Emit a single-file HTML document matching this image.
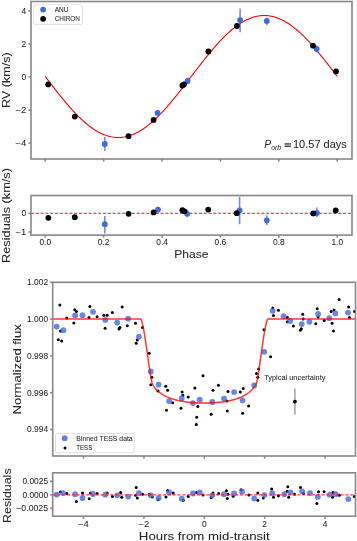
<!DOCTYPE html><html><head><meta charset="utf-8"><style>html,body{margin:0;padding:0;background:#fff;}svg{display:block;will-change:transform;}</style></head><body><svg width="357" height="541" viewBox="0 0 357 541" font-family='"Liberation Sans", sans-serif'><rect width="357" height="541" fill="#fff"/><polyline points="45.25,76.50 46.71,78.42 48.17,80.33 49.63,82.24 51.09,84.15 52.55,86.04 54.01,87.93 55.47,89.81 56.93,91.67 58.39,93.52 59.85,95.35 61.31,97.16 62.77,98.95 64.23,100.72 65.69,102.47 67.15,104.19 68.61,105.88 70.07,107.54 71.53,109.18 72.99,110.78 74.45,112.35 75.91,113.88 77.37,115.37 78.83,116.83 80.29,118.25 81.75,119.62 83.21,120.95 84.67,122.24 86.13,123.49 87.59,124.69 89.05,125.84 90.51,126.94 91.97,127.99 93.43,128.99 94.89,129.94 96.35,130.84 97.81,131.68 99.27,132.47 100.73,133.20 102.19,133.88 103.65,134.50 105.11,135.06 106.57,135.57 108.03,136.01 109.49,136.40 110.95,136.73 112.41,137.00 113.87,137.21 115.33,137.36 116.79,137.45 118.25,137.48 119.71,137.45 121.17,137.36 122.63,137.21 124.09,137.00 125.55,136.73 127.01,136.40 128.47,136.01 129.93,135.57 131.39,135.06 132.85,134.50 134.31,133.88 135.77,133.20 137.23,132.47 138.69,131.68 140.15,130.84 141.61,129.94 143.07,128.99 144.53,127.99 145.99,126.94 147.45,125.84 148.91,124.69 150.37,123.49 151.83,122.24 153.29,120.95 154.75,119.62 156.21,118.25 157.67,116.83 159.13,115.37 160.59,113.88 162.05,112.35 163.51,110.78 164.97,109.18 166.43,107.54 167.89,105.88 169.35,104.19 170.81,102.47 172.27,100.72 173.73,98.95 175.19,97.16 176.65,95.35 178.11,93.52 179.57,91.67 181.03,89.81 182.49,87.93 183.95,86.04 185.41,84.15 186.87,82.24 188.33,80.33 189.79,78.42 191.25,76.50 192.71,74.59 194.17,72.68 195.63,70.77 197.09,68.86 198.55,66.97 200.01,65.08 201.47,63.20 202.93,61.34 204.39,59.49 205.85,57.66 207.31,55.85 208.77,54.06 210.23,52.29 211.69,50.54 213.15,48.82 214.61,47.13 216.07,45.46 217.53,43.83 218.99,42.23 220.45,40.66 221.91,39.13 223.37,37.64 224.83,36.18 226.29,34.76 227.75,33.39 229.21,32.05 230.67,30.76 232.13,29.52 233.59,28.32 235.05,27.17 236.51,26.07 237.97,25.02 239.43,24.02 240.89,23.07 242.35,22.17 243.81,21.33 245.27,20.54 246.73,19.81 248.19,19.13 249.65,18.51 251.11,17.95 252.57,17.44 254.03,17.00 255.49,16.61 256.95,16.28 258.41,16.01 259.87,15.80 261.33,15.65 262.79,15.56 264.25,15.53 265.71,15.56 267.17,15.65 268.63,15.80 270.09,16.01 271.55,16.28 273.01,16.61 274.47,17.00 275.93,17.44 277.39,17.95 278.85,18.51 280.31,19.13 281.77,19.81 283.23,20.54 284.69,21.33 286.15,22.17 287.61,23.07 289.07,24.02 290.53,25.02 291.99,26.07 293.45,27.17 294.91,28.32 296.37,29.52 297.83,30.76 299.29,32.05 300.75,33.39 302.21,34.76 303.67,36.18 305.13,37.64 306.59,39.13 308.05,40.66 309.51,42.23 310.97,43.83 312.43,45.46 313.89,47.13 315.35,48.82 316.81,50.54 318.27,52.29 319.73,54.06 321.19,55.85 322.65,57.66 324.11,59.49 325.57,61.34 327.03,63.20 328.49,65.08 329.95,66.97 331.41,68.86 332.87,70.77 334.33,72.68 335.79,74.59 337.25,76.50" fill="none" stroke="#ff0000" stroke-width="1.1"/><line x1="104.8" y1="137" x2="104.8" y2="151" stroke="#4169e1" stroke-width="1.6" stroke-opacity="0.75"/><line x1="157.6" y1="110.4" x2="157.6" y2="115.4" stroke="#4169e1" stroke-width="1.6" stroke-opacity="0.75"/><line x1="187.6" y1="77.6" x2="187.6" y2="84.3" stroke="#4169e1" stroke-width="1.6" stroke-opacity="0.75"/><line x1="240.1" y1="8.6" x2="240.1" y2="32.2" stroke="#4169e1" stroke-width="1.6" stroke-opacity="0.75"/><line x1="266.8" y1="17.4" x2="266.8" y2="25.2" stroke="#4169e1" stroke-width="1.6" stroke-opacity="0.75"/><line x1="316.7" y1="45.5" x2="316.7" y2="52.5" stroke="#4169e1" stroke-width="1.6" stroke-opacity="0.75"/><circle cx="104.8" cy="144" r="2.9" fill="#4169e1"/><circle cx="157.6" cy="112.9" r="2.9" fill="#4169e1"/><circle cx="187.6" cy="81" r="2.9" fill="#4169e1"/><circle cx="240.1" cy="20.1" r="2.9" fill="#4169e1"/><circle cx="266.8" cy="21" r="2.9" fill="#4169e1"/><circle cx="316.7" cy="49" r="2.9" fill="#4169e1"/><circle cx="48.2" cy="84.4" r="2.9" fill="#000"/><circle cx="74.8" cy="116.6" r="2.9" fill="#000"/><circle cx="128.5" cy="136.2" r="2.9" fill="#000"/><circle cx="153.6" cy="119.9" r="2.9" fill="#000"/><circle cx="182.4" cy="85.5" r="2.9" fill="#000"/><circle cx="184" cy="84.3" r="2.9" fill="#000"/><circle cx="208.4" cy="51.5" r="2.9" fill="#000"/><circle cx="236.9" cy="26" r="2.9" fill="#000"/><circle cx="313" cy="45.7" r="2.9" fill="#000"/><circle cx="336" cy="71.4" r="2.9" fill="#000"/><rect x="31" y="1.5" width="321" height="157.5" fill="none" stroke="#888888" stroke-width="1.6"/><line x1="28.4" y1="10.900000000000006" x2="31" y2="10.900000000000006" stroke="#888888" stroke-width="1.6"/><text x="26.3" y="13.7" font-size="8.5" text-anchor="end" textLength="4.68" lengthAdjust="spacingAndGlyphs" fill="#262626" stroke="#262626" stroke-width="0.05" >4</text><line x1="28.4" y1="43.95" x2="31" y2="43.95" stroke="#888888" stroke-width="1.6"/><text x="26.3" y="46.75" font-size="8.5" text-anchor="end" textLength="4.68" lengthAdjust="spacingAndGlyphs" fill="#262626" stroke="#262626" stroke-width="0.05" >2</text><line x1="28.4" y1="77.0" x2="31" y2="77.0" stroke="#888888" stroke-width="1.6"/><text x="26.3" y="79.8" font-size="8.5" text-anchor="end" textLength="4.68" lengthAdjust="spacingAndGlyphs" fill="#262626" stroke="#262626" stroke-width="0.05" >0</text><line x1="28.4" y1="110.05" x2="31" y2="110.05" stroke="#888888" stroke-width="1.6"/><text x="26.3" y="112.85" font-size="8.5" text-anchor="end" textLength="10.83" lengthAdjust="spacingAndGlyphs" fill="#262626" stroke="#262626" stroke-width="0.05" >&#8722;2</text><line x1="28.4" y1="143.1" x2="31" y2="143.1" stroke="#888888" stroke-width="1.6"/><text x="26.3" y="145.9" font-size="8.5" text-anchor="end" textLength="10.83" lengthAdjust="spacingAndGlyphs" fill="#262626" stroke="#262626" stroke-width="0.05" >&#8722;4</text><line x1="45.25" y1="159" x2="45.25" y2="161.6" stroke="#888888" stroke-width="1.6"/><line x1="103.65" y1="159" x2="103.65" y2="161.6" stroke="#888888" stroke-width="1.6"/><line x1="162.05" y1="159" x2="162.05" y2="161.6" stroke="#888888" stroke-width="1.6"/><line x1="220.45" y1="159" x2="220.45" y2="161.6" stroke="#888888" stroke-width="1.6"/><line x1="278.85" y1="159" x2="278.85" y2="161.6" stroke="#888888" stroke-width="1.6"/><line x1="337.25" y1="159" x2="337.25" y2="161.6" stroke="#888888" stroke-width="1.6"/><text transform="translate(9.6,80.2) rotate(-90)" x="0" y="0" font-size="11.5" text-anchor="middle" textLength="55.59" lengthAdjust="spacingAndGlyphs" fill="#262626" stroke="#262626" stroke-width="0.05">RV (km/s)</text><rect x="33.7" y="4.7" width="48.7" height="19.7" rx="1.5" fill="#fff" fill-opacity="0.8" stroke="#d9d9d9" stroke-width="0.8"/><circle cx="43.1" cy="9.6" r="2.9" fill="#4169e1"/><circle cx="43.1" cy="18.8" r="2.9" fill="#000"/><text x="54.7" y="12.2" font-size="7.2" text-anchor="start" textLength="13.74" lengthAdjust="spacingAndGlyphs" fill="#262626" stroke="#262626" stroke-width="0.05" >ANU</text><text x="54.7" y="21.2" font-size="7.2" text-anchor="start" textLength="25.24" lengthAdjust="spacingAndGlyphs" fill="#262626" stroke="#262626" stroke-width="0.05" >CHIRON</text><text x="264.2" y="148.2" font-size="10.2" font-style="italic" fill="#262626" textLength="6.9" lengthAdjust="spacingAndGlyphs">P</text><text x="271.2" y="149.6" font-size="7.0" font-style="italic" fill="#262626" textLength="9.9" lengthAdjust="spacingAndGlyphs">orb</text><rect x="284.6" y="143.3" width="6.3" height="1.3" fill="#303030"/><rect x="284.6" y="145.6" width="6.3" height="1.3" fill="#303030"/><text x="293.0" y="148.3" font-size="10.2" text-anchor="start" textLength="53.86" lengthAdjust="spacingAndGlyphs" fill="#262626" stroke="#262626" stroke-width="0.05" >10.57 days</text><line x1="31" y1="213.3" x2="352" y2="213.3" stroke="#dc143c" stroke-width="1.1" stroke-dasharray="3,1.8"/><line x1="104.8" y1="216" x2="104.8" y2="233.4" stroke="#4169e1" stroke-width="1.6" stroke-opacity="0.75"/><line x1="158" y1="207.4" x2="158" y2="212.4" stroke="#4169e1" stroke-width="1.6" stroke-opacity="0.75"/><line x1="187.2" y1="209.6" x2="187.2" y2="217.2" stroke="#4169e1" stroke-width="1.6" stroke-opacity="0.75"/><line x1="239.6" y1="197" x2="239.6" y2="224.2" stroke="#4169e1" stroke-width="1.6" stroke-opacity="0.75"/><line x1="266.8" y1="215.2" x2="266.8" y2="225" stroke="#4169e1" stroke-width="1.6" stroke-opacity="0.75"/><line x1="316.9" y1="207.4" x2="316.9" y2="217.2" stroke="#4169e1" stroke-width="1.6" stroke-opacity="0.75"/><circle cx="104.8" cy="224.2" r="2.9" fill="#4169e1"/><circle cx="158" cy="209.6" r="2.9" fill="#4169e1"/><circle cx="187.2" cy="213.8" r="2.9" fill="#4169e1"/><circle cx="239.6" cy="210.4" r="2.9" fill="#4169e1"/><circle cx="266.8" cy="220.3" r="2.9" fill="#4169e1"/><circle cx="316.9" cy="213" r="2.9" fill="#4169e1"/><circle cx="48.3" cy="217.8" r="2.9" fill="#000"/><circle cx="74.8" cy="217.2" r="2.9" fill="#000"/><circle cx="128.6" cy="213.8" r="2.9" fill="#000"/><circle cx="153.6" cy="212.4" r="2.9" fill="#000"/><circle cx="182.4" cy="210.2" r="2.9" fill="#000"/><circle cx="184.4" cy="211.3" r="2.9" fill="#000"/><circle cx="208.2" cy="209.6" r="2.9" fill="#000"/><circle cx="236.8" cy="213.2" r="2.9" fill="#000"/><circle cx="313.3" cy="213.4" r="2.9" fill="#000"/><circle cx="335.7" cy="210.4" r="2.9" fill="#000"/><rect x="31" y="195.5" width="321" height="39.599999999999994" fill="none" stroke="#888888" stroke-width="1.6"/><line x1="28.4" y1="213.3" x2="31" y2="213.3" stroke="#888888" stroke-width="1.6"/><text x="26.3" y="216.1" font-size="8.5" text-anchor="end" textLength="4.68" lengthAdjust="spacingAndGlyphs" fill="#262626" stroke="#262626" stroke-width="0.05" >0</text><line x1="28.4" y1="232.0" x2="31" y2="232.0" stroke="#888888" stroke-width="1.6"/><text x="26.3" y="234.8" font-size="8.5" text-anchor="end" textLength="10.83" lengthAdjust="spacingAndGlyphs" fill="#262626" stroke="#262626" stroke-width="0.05" >&#8722;1</text><line x1="45.25" y1="235.1" x2="45.25" y2="237.7" stroke="#888888" stroke-width="1.6"/><text x="45.25" y="245.2" font-size="8.5" text-anchor="middle" textLength="11.69" lengthAdjust="spacingAndGlyphs" fill="#262626" stroke="#262626" stroke-width="0.05" >0.0</text><line x1="103.65" y1="235.1" x2="103.65" y2="237.7" stroke="#888888" stroke-width="1.6"/><text x="103.65" y="245.2" font-size="8.5" text-anchor="middle" textLength="11.69" lengthAdjust="spacingAndGlyphs" fill="#262626" stroke="#262626" stroke-width="0.05" >0.2</text><line x1="162.05" y1="235.1" x2="162.05" y2="237.7" stroke="#888888" stroke-width="1.6"/><text x="162.05" y="245.2" font-size="8.5" text-anchor="middle" textLength="11.69" lengthAdjust="spacingAndGlyphs" fill="#262626" stroke="#262626" stroke-width="0.05" >0.4</text><line x1="220.45" y1="235.1" x2="220.45" y2="237.7" stroke="#888888" stroke-width="1.6"/><text x="220.45" y="245.2" font-size="8.5" text-anchor="middle" textLength="11.69" lengthAdjust="spacingAndGlyphs" fill="#262626" stroke="#262626" stroke-width="0.05" >0.6</text><line x1="278.85" y1="235.1" x2="278.85" y2="237.7" stroke="#888888" stroke-width="1.6"/><text x="278.85" y="245.2" font-size="8.5" text-anchor="middle" textLength="11.69" lengthAdjust="spacingAndGlyphs" fill="#262626" stroke="#262626" stroke-width="0.05" >0.8</text><line x1="337.25" y1="235.1" x2="337.25" y2="237.7" stroke="#888888" stroke-width="1.6"/><text x="337.25" y="245.2" font-size="8.5" text-anchor="middle" textLength="11.69" lengthAdjust="spacingAndGlyphs" fill="#262626" stroke="#262626" stroke-width="0.05" >1.0</text><text transform="translate(10.3,215.5) rotate(-90)" x="0" y="0" font-size="11.5" text-anchor="middle" textLength="94.92" lengthAdjust="spacingAndGlyphs" fill="#262626" stroke="#262626" stroke-width="0.05">Residuals (km/s)</text><text x="191.4" y="257.8" font-size="11.5" text-anchor="middle" textLength="34.34" lengthAdjust="spacingAndGlyphs" fill="#262626" stroke="#262626" stroke-width="0.05" >Phase</text><circle cx="59.9" cy="305.1" r="1.5" fill="#000"/><circle cx="66.8" cy="318.1" r="1.5" fill="#000"/><circle cx="58.3" cy="339.8" r="1.5" fill="#000"/><circle cx="61.7" cy="341" r="1.5" fill="#000"/><circle cx="60.5" cy="331.1" r="1.5" fill="#000"/><circle cx="74.7" cy="309.8" r="1.5" fill="#000"/><circle cx="76.4" cy="311.4" r="1.5" fill="#000"/><circle cx="73.8" cy="323" r="1.5" fill="#000"/><circle cx="89.9" cy="306.4" r="1.5" fill="#000"/><circle cx="89" cy="317.6" r="1.5" fill="#000"/><circle cx="97.1" cy="316.8" r="1.5" fill="#000"/><circle cx="103.8" cy="315.2" r="1.5" fill="#000"/><circle cx="107.1" cy="315.2" r="1.5" fill="#000"/><circle cx="105.1" cy="328.2" r="1.5" fill="#000"/><circle cx="112.3" cy="312.5" r="1.5" fill="#000"/><circle cx="122.2" cy="307.1" r="1.5" fill="#000"/><circle cx="119.9" cy="327.5" r="1.5" fill="#000"/><circle cx="119" cy="328.9" r="1.5" fill="#000"/><circle cx="127.3" cy="325.7" r="1.5" fill="#000"/><circle cx="135.5" cy="323.2" r="1.5" fill="#000"/><circle cx="142.5" cy="327.5" r="1.5" fill="#000"/><circle cx="137.3" cy="340.1" r="1.5" fill="#000"/><circle cx="136.2" cy="343.2" r="1.5" fill="#000"/><circle cx="149.2" cy="353.3" r="1.5" fill="#000"/><circle cx="151.9" cy="377.3" r="1.5" fill="#000"/><circle cx="150.8" cy="384.7" r="1.5" fill="#000"/><circle cx="158" cy="391" r="1.5" fill="#000"/><circle cx="165.8" cy="386.3" r="1.5" fill="#000"/><circle cx="167.6" cy="390.3" r="1.5" fill="#000"/><circle cx="172.7" cy="402.7" r="1.5" fill="#000"/><circle cx="166.5" cy="410.3" r="1.5" fill="#000"/><circle cx="182.1" cy="391.9" r="1.5" fill="#000"/><circle cx="182.8" cy="395.3" r="1.5" fill="#000"/><circle cx="181" cy="408.3" r="1.5" fill="#000"/><circle cx="188.2" cy="397.1" r="1.5" fill="#000"/><circle cx="194.9" cy="388.1" r="1.5" fill="#000"/><circle cx="197.8" cy="406.5" r="1.5" fill="#000"/><circle cx="196.7" cy="417.2" r="1.5" fill="#000"/><circle cx="196.3" cy="424.4" r="1.5" fill="#000"/><circle cx="203" cy="375.8" r="1.5" fill="#000"/><circle cx="213" cy="390.3" r="1.5" fill="#000"/><circle cx="218.4" cy="385.2" r="1.5" fill="#000"/><circle cx="211.2" cy="414.3" r="1.5" fill="#000"/><circle cx="226.9" cy="401.1" r="1.5" fill="#000"/><circle cx="227.3" cy="411" r="1.5" fill="#000"/><circle cx="228" cy="391.5" r="1.5" fill="#000"/><circle cx="240.3" cy="391.9" r="1.5" fill="#000"/><circle cx="243.2" cy="388.5" r="1.5" fill="#000"/><circle cx="248.6" cy="406" r="1.5" fill="#000"/><circle cx="242.6" cy="413.2" r="1.5" fill="#000"/><circle cx="257.8" cy="377.3" r="1.5" fill="#000"/><circle cx="256.5" cy="373.5" r="1.5" fill="#000"/><circle cx="258.7" cy="369" r="1.5" fill="#000"/><circle cx="270.6" cy="356.7" r="1.5" fill="#000"/><circle cx="272.8" cy="308" r="1.5" fill="#000"/><circle cx="273.5" cy="315.4" r="1.5" fill="#000"/><circle cx="278.4" cy="310.3" r="1.5" fill="#000"/><circle cx="263.9" cy="329.7" r="1.5" fill="#000"/><circle cx="287.3" cy="317.6" r="1.5" fill="#000"/><circle cx="287.3" cy="321.8" r="1.5" fill="#000"/><circle cx="293.4" cy="326" r="1.5" fill="#000"/><circle cx="302.7" cy="314.3" r="1.5" fill="#000"/><circle cx="303.2" cy="319" r="1.5" fill="#000"/><circle cx="301.3" cy="328.8" r="1.5" fill="#000"/><circle cx="300.4" cy="330.2" r="1.5" fill="#000"/><circle cx="315.8" cy="323.8" r="1.5" fill="#000"/><circle cx="317.2" cy="308.7" r="1.5" fill="#000"/><circle cx="318.1" cy="317" r="1.5" fill="#000"/><circle cx="324.2" cy="320.4" r="1.5" fill="#000"/><circle cx="331.2" cy="311.5" r="1.5" fill="#000"/><circle cx="332.1" cy="323.2" r="1.5" fill="#000"/><circle cx="333.5" cy="331.1" r="1.5" fill="#000"/><circle cx="334" cy="310" r="1.5" fill="#000"/><circle cx="339.1" cy="299.4" r="1.5" fill="#000"/><circle cx="348.6" cy="307" r="1.5" fill="#000"/><circle cx="349.4" cy="317.6" r="1.5" fill="#000"/><circle cx="354.5" cy="311.5" r="1.5" fill="#000"/><circle cx="56.7" cy="326.6" r="2.9" fill="#4169e1" fill-opacity="0.8"/><circle cx="63.4" cy="330.2" r="2.9" fill="#4169e1" fill-opacity="0.8"/><circle cx="75.1" cy="315.4" r="2.9" fill="#4169e1" fill-opacity="0.8"/><circle cx="82.5" cy="315.2" r="2.9" fill="#4169e1" fill-opacity="0.8"/><circle cx="93" cy="311.8" r="2.9" fill="#4169e1" fill-opacity="0.8"/><circle cx="105.3" cy="319.9" r="2.9" fill="#4169e1" fill-opacity="0.8"/><circle cx="117.2" cy="322.6" r="2.9" fill="#4169e1" fill-opacity="0.8"/><circle cx="128.1" cy="318.7" r="2.9" fill="#4169e1" fill-opacity="0.8"/><circle cx="138.9" cy="336.7" r="2.9" fill="#4169e1" fill-opacity="0.8"/><circle cx="150.8" cy="371.5" r="2.9" fill="#4169e1" fill-opacity="0.8"/><circle cx="158.6" cy="384.7" r="2.9" fill="#4169e1" fill-opacity="0.8"/><circle cx="169.1" cy="401.1" r="2.9" fill="#4169e1" fill-opacity="0.8"/><circle cx="181.7" cy="398.2" r="2.9" fill="#4169e1" fill-opacity="0.8"/><circle cx="192.9" cy="403.1" r="2.9" fill="#4169e1" fill-opacity="0.8"/><circle cx="199.7" cy="399.7" r="2.9" fill="#4169e1" fill-opacity="0.8"/><circle cx="212.3" cy="402" r="2.9" fill="#4169e1" fill-opacity="0.8"/><circle cx="224" cy="398.6" r="2.9" fill="#4169e1" fill-opacity="0.8"/><circle cx="234.1" cy="392.1" r="2.9" fill="#4169e1" fill-opacity="0.8"/><circle cx="242.6" cy="400.4" r="2.9" fill="#4169e1" fill-opacity="0.8"/><circle cx="254.2" cy="385.4" r="2.9" fill="#4169e1" fill-opacity="0.8"/><circle cx="264.2" cy="351.8" r="2.9" fill="#4169e1" fill-opacity="0.8"/><circle cx="272.6" cy="310.8" r="2.9" fill="#4169e1" fill-opacity="0.8"/><circle cx="283.6" cy="316.2" r="2.9" fill="#4169e1" fill-opacity="0.8"/><circle cx="290.1" cy="321" r="2.9" fill="#4169e1" fill-opacity="0.8"/><circle cx="301.8" cy="324.1" r="2.9" fill="#4169e1" fill-opacity="0.8"/><circle cx="309.4" cy="321.8" r="2.9" fill="#4169e1" fill-opacity="0.8"/><circle cx="318.1" cy="314" r="2.9" fill="#4169e1" fill-opacity="0.8"/><circle cx="329.3" cy="318.2" r="2.9" fill="#4169e1" fill-opacity="0.8"/><circle cx="335.4" cy="313.4" r="2.9" fill="#4169e1" fill-opacity="0.8"/><circle cx="348" cy="312.6" r="2.9" fill="#4169e1" fill-opacity="0.8"/><polyline points="52.5,319.1 53.0,319.1 53.5,319.1 54.0,319.1 54.5,319.1 55.0,319.1 55.5,319.1 56.0,319.1 56.5,319.1 57.0,319.1 57.5,319.1 58.0,319.1 58.5,319.1 59.0,319.1 59.5,319.1 60.0,319.1 60.5,319.1 61.0,319.1 61.5,319.1 62.0,319.1 62.5,319.1 63.0,319.1 63.5,319.1 64.0,319.1 64.5,319.1 65.0,319.1 65.5,319.1 66.0,319.1 66.5,319.1 67.0,319.1 67.5,319.1 68.0,319.1 68.5,319.1 69.0,319.1 69.5,319.1 70.0,319.1 70.5,319.1 71.0,319.1 71.5,319.1 72.0,319.1 72.5,319.1 73.0,319.1 73.5,319.1 74.0,319.1 74.5,319.1 75.0,319.1 75.5,319.1 76.0,319.1 76.5,319.1 77.0,319.1 77.5,319.1 78.0,319.1 78.5,319.1 79.0,319.1 79.5,319.1 80.0,319.1 80.5,319.1 81.0,319.1 81.5,319.1 82.0,319.1 82.5,319.1 83.0,319.1 83.5,319.1 84.0,319.1 84.5,319.1 85.0,319.1 85.5,319.1 86.0,319.1 86.5,319.1 87.0,319.1 87.5,319.1 88.0,319.1 88.5,319.1 89.0,319.1 89.5,319.1 90.0,319.1 90.5,319.1 91.0,319.1 91.5,319.1 92.0,319.1 92.5,319.1 93.0,319.1 93.5,319.1 94.0,319.1 94.5,319.1 95.0,319.1 95.5,319.1 96.0,319.1 96.5,319.1 97.0,319.1 97.5,319.1 98.0,319.1 98.5,319.1 99.0,319.1 99.5,319.1 100.0,319.1 100.5,319.1 101.0,319.1 101.5,319.1 102.0,319.1 102.5,319.1 103.0,319.1 103.5,319.1 104.0,319.1 104.5,319.1 105.0,319.1 105.5,319.1 106.0,319.1 106.5,319.1 107.0,319.1 107.5,319.1 108.0,319.1 108.5,319.1 109.0,319.1 109.5,319.1 110.0,319.1 110.5,319.1 111.0,319.1 111.5,319.1 112.0,319.1 112.5,319.1 113.0,319.1 113.5,319.1 114.0,319.1 114.5,319.1 115.0,319.1 115.5,319.1 116.0,319.1 116.5,319.1 117.0,319.1 117.5,319.1 118.0,319.1 118.5,319.1 119.0,319.1 119.5,319.1 120.0,319.1 120.5,319.1 121.0,319.1 121.5,319.1 122.0,319.1 122.5,319.1 123.0,319.1 123.5,319.1 124.0,319.1 124.5,319.1 125.0,319.1 125.5,319.1 126.0,319.1 126.5,319.1 127.0,319.1 127.5,319.1 128.0,319.1 128.5,319.1 129.0,319.1 129.5,319.1 130.0,319.1 130.5,319.1 131.0,319.1 131.5,319.1 132.0,319.1 132.5,319.1 133.0,319.1 133.5,319.1 134.0,319.1 134.5,319.1 135.0,319.1 135.5,319.1 136.0,319.1 136.5,319.1 137.0,319.1 137.5,319.1 138.0,319.1 138.5,319.1 139.0,319.1 139.5,319.1 140.0,319.1 140.5,319.1 141.0,319.25 141.5,320.28 142.0,321.86 142.5,323.82 143.0,326.09 143.5,328.6 144.0,331.39 144.5,334.36 145.0,337.51 145.5,340.79 146.0,344.11 146.5,347.52 147.0,351.03 147.5,354.62 148.0,358.17 148.5,361.76 149.0,365.22 149.5,368.57 150.0,371.83 150.5,374.97 151.0,377.89 151.5,380.6 152.0,382.66 152.5,384.12 153.0,385.13 153.5,385.88 154.0,386.55 154.5,387.33 155.0,387.99 155.5,388.51 156.0,389.15 156.5,389.61 157.0,390.16 157.5,390.69 158.0,391.11 158.5,391.54 159.0,392.01 159.5,392.41 160.0,392.76 160.5,393.09 161.0,393.52 161.5,393.75 162.0,394.19 162.5,394.51 163.0,394.74 163.5,395.03 164.0,395.4 164.5,395.64 165.0,395.85 165.5,396.07 166.0,396.36 166.5,396.68 167.0,396.87 167.5,397.14 168.0,397.31 168.5,397.56 169.0,397.76 169.5,397.92 170.0,398.15 170.5,398.21 171.0,398.34 171.5,398.65 172.0,398.86 172.5,398.93 173.0,399.05 173.5,399.33 174.0,399.35 174.5,399.58 175.0,399.63 175.5,399.89 176.0,399.85 176.5,400.11 177.0,400.28 177.5,400.22 178.0,400.52 178.5,400.63 179.0,400.73 179.5,400.8 180.0,400.94 180.5,401.04 181.0,401.09 181.5,401.23 182.0,401.32 182.5,401.23 183.0,401.49 183.5,401.57 184.0,401.47 184.5,401.73 185.0,401.67 185.5,401.83 186.0,401.94 186.5,401.92 187.0,401.94 187.5,401.96 188.0,402.11 188.5,402.07 189.0,402.13 189.5,402.32 190.0,402.42 190.5,402.33 191.0,402.51 191.5,402.42 192.0,402.6 192.5,402.5 193.0,402.59 193.5,402.67 194.0,402.7 194.5,402.74 195.0,402.68 195.5,402.71 196.0,402.87 196.5,402.76 197.0,402.93 197.5,402.86 198.0,402.97 198.5,402.99 199.0,403.01 199.5,402.98 200.0,402.99 200.5,403.05 201.0,402.97 201.5,402.94 202.0,403.08 202.5,403.09 203.0,402.91 203.5,403.1 204.0,403.1 204.5,403.1 205.0,403.05 205.5,402.96 206.0,403.0 206.5,403.08 207.0,402.89 207.5,403.02 208.0,403.01 208.5,402.9 209.0,402.94 209.5,402.83 210.0,402.9 210.5,402.93 211.0,402.95 211.5,402.75 212.0,402.91 212.5,402.74 213.0,402.81 213.5,402.78 214.0,402.75 214.5,402.76 215.0,402.68 215.5,402.69 216.0,402.6 216.5,402.47 217.0,402.56 217.5,402.38 218.0,402.43 218.5,402.29 219.0,402.37 219.5,402.32 220.0,402.26 220.5,402.16 221.0,402.1 221.5,402.05 222.0,402.03 222.5,401.96 223.0,401.71 223.5,401.82 224.0,401.66 224.5,401.67 225.0,401.46 225.5,401.51 226.0,401.34 226.5,401.25 227.0,401.2 227.5,401.16 228.0,401.06 228.5,400.96 229.0,400.86 229.5,400.71 230.0,400.6 230.5,400.45 231.0,400.29 231.5,400.3 232.0,400.14 232.5,399.97 233.0,399.92 233.5,399.61 234.0,399.65 234.5,399.38 235.0,399.36 235.5,399.16 236.0,398.92 236.5,398.89 237.0,398.68 237.5,398.46 238.0,398.29 238.5,398.19 239.0,398.0 239.5,397.81 240.0,397.56 240.5,397.4 241.0,397.14 241.5,396.96 242.0,396.68 242.5,396.41 243.0,396.12 243.5,395.91 244.0,395.68 244.5,395.46 245.0,395.17 245.5,394.71 246.0,394.54 246.5,394.27 247.0,393.81 247.5,393.6 248.0,393.16 248.5,392.87 249.0,392.49 249.5,392.01 250.0,391.68 250.5,391.12 251.0,390.73 251.5,390.26 252.0,389.8 252.5,389.25 253.0,388.55 253.5,388.1 254.0,387.44 254.5,386.69 255.0,386.08 255.5,385.28 256.0,384.27 256.5,383.07 257.0,381.07 257.5,378.45 258.0,375.54 258.5,372.51 259.0,369.28 259.5,365.79 260.0,362.37 260.5,358.79 261.0,355.27 261.5,351.73 262.0,348.21 262.5,344.76 263.0,341.36 263.5,338.14 264.0,334.97 264.5,331.93 265.0,329.14 265.5,326.56 266.0,324.27 266.5,322.27 267.0,320.59 267.5,319.44 268.0,319.1 268.5,319.1 269.0,319.1 269.5,319.1 270.0,319.1 270.5,319.1 271.0,319.1 271.5,319.1 272.0,319.1 272.5,319.1 273.0,319.1 273.5,319.1 274.0,319.1 274.5,319.1 275.0,319.1 275.5,319.1 276.0,319.1 276.5,319.1 277.0,319.1 277.5,319.1 278.0,319.1 278.5,319.1 279.0,319.1 279.5,319.1 280.0,319.1 280.5,319.1 281.0,319.1 281.5,319.1 282.0,319.1 282.5,319.1 283.0,319.1 283.5,319.1 284.0,319.1 284.5,319.1 285.0,319.1 285.5,319.1 286.0,319.1 286.5,319.1 287.0,319.1 287.5,319.1 288.0,319.1 288.5,319.1 289.0,319.1 289.5,319.1 290.0,319.1 290.5,319.1 291.0,319.1 291.5,319.1 292.0,319.1 292.5,319.1 293.0,319.1 293.5,319.1 294.0,319.1 294.5,319.1 295.0,319.1 295.5,319.1 296.0,319.1 296.5,319.1 297.0,319.1 297.5,319.1 298.0,319.1 298.5,319.1 299.0,319.1 299.5,319.1 300.0,319.1 300.5,319.1 301.0,319.1 301.5,319.1 302.0,319.1 302.5,319.1 303.0,319.1 303.5,319.1 304.0,319.1 304.5,319.1 305.0,319.1 305.5,319.1 306.0,319.1 306.5,319.1 307.0,319.1 307.5,319.1 308.0,319.1 308.5,319.1 309.0,319.1 309.5,319.1 310.0,319.1 310.5,319.1 311.0,319.1 311.5,319.1 312.0,319.1 312.5,319.1 313.0,319.1 313.5,319.1 314.0,319.1 314.5,319.1 315.0,319.1 315.5,319.1 316.0,319.1 316.5,319.1 317.0,319.1 317.5,319.1 318.0,319.1 318.5,319.1 319.0,319.1 319.5,319.1 320.0,319.1 320.5,319.1 321.0,319.1 321.5,319.1 322.0,319.1 322.5,319.1 323.0,319.1 323.5,319.1 324.0,319.1 324.5,319.1 325.0,319.1 325.5,319.1 326.0,319.1 326.5,319.1 327.0,319.1 327.5,319.1 328.0,319.1 328.5,319.1 329.0,319.1 329.5,319.1 330.0,319.1 330.5,319.1 331.0,319.1 331.5,319.1 332.0,319.1 332.5,319.1 333.0,319.1 333.5,319.1 334.0,319.1 334.5,319.1 335.0,319.1 335.5,319.1 336.0,319.1 336.5,319.1 337.0,319.1 337.5,319.1 338.0,319.1 338.5,319.1 339.0,319.1 339.5,319.1 340.0,319.1 340.5,319.1 341.0,319.1 341.5,319.1 342.0,319.1 342.5,319.1 343.0,319.1 343.5,319.1 344.0,319.1 344.5,319.1 345.0,319.1 345.5,319.1 346.0,319.1 346.5,319.1 347.0,319.1 347.5,319.1 348.0,319.1 348.5,319.1 349.0,319.1 349.5,319.1 350.0,319.1 350.5,319.1 351.0,319.1 351.5,319.1 352.0,319.1 352.5,319.1 353.0,319.1 353.5,319.1 354.0,319.1 354.5,319.1 355.0,319.1 355.5,319.1 356.0,319.1" fill="none" stroke="#ff0000" stroke-width="1.5" stroke-opacity="0.78"/><rect x="52.7" y="282.3" width="302.8" height="173.7" fill="none" stroke="#888888" stroke-width="1.6"/><line x1="50.1" y1="282.3" x2="52.7" y2="282.3" stroke="#888888" stroke-width="1.6"/><text x="48.1" y="285.1" font-size="8.5" text-anchor="end" textLength="21.04" lengthAdjust="spacingAndGlyphs" fill="#262626" stroke="#262626" stroke-width="0.05" >1.002</text><line x1="50.1" y1="319.1" x2="52.7" y2="319.1" stroke="#888888" stroke-width="1.6"/><text x="48.1" y="321.9" font-size="8.5" text-anchor="end" textLength="21.04" lengthAdjust="spacingAndGlyphs" fill="#262626" stroke="#262626" stroke-width="0.05" >1.000</text><line x1="50.1" y1="355.9" x2="52.7" y2="355.9" stroke="#888888" stroke-width="1.6"/><text x="48.1" y="358.7" font-size="8.5" text-anchor="end" textLength="21.04" lengthAdjust="spacingAndGlyphs" fill="#262626" stroke="#262626" stroke-width="0.05" >0.998</text><line x1="50.1" y1="392.7" x2="52.7" y2="392.7" stroke="#888888" stroke-width="1.6"/><text x="48.1" y="395.5" font-size="8.5" text-anchor="end" textLength="21.04" lengthAdjust="spacingAndGlyphs" fill="#262626" stroke="#262626" stroke-width="0.05" >0.996</text><line x1="50.1" y1="429.5" x2="52.7" y2="429.5" stroke="#888888" stroke-width="1.6"/><text x="48.1" y="432.3" font-size="8.5" text-anchor="end" textLength="21.04" lengthAdjust="spacingAndGlyphs" fill="#262626" stroke="#262626" stroke-width="0.05" >0.994</text><line x1="83.50000000000001" y1="456" x2="83.50000000000001" y2="458.6" stroke="#888888" stroke-width="1.6"/><line x1="143.9" y1="456" x2="143.9" y2="458.6" stroke="#888888" stroke-width="1.6"/><line x1="204.3" y1="456" x2="204.3" y2="458.6" stroke="#888888" stroke-width="1.6"/><line x1="264.7" y1="456" x2="264.7" y2="458.6" stroke="#888888" stroke-width="1.6"/><line x1="325.1" y1="456" x2="325.1" y2="458.6" stroke="#888888" stroke-width="1.6"/><text transform="translate(20.8,369.4) rotate(-90)" x="0" y="0" font-size="11.5" text-anchor="middle" textLength="90.21" lengthAdjust="spacingAndGlyphs" fill="#262626" stroke="#262626" stroke-width="0.05">Normalized flux</text><text x="264.2" y="379.6" font-size="7.2" text-anchor="start" textLength="61.22" lengthAdjust="spacingAndGlyphs" fill="#262626" stroke="#262626" stroke-width="0.05" >Typical uncertainty</text><line x1="294.9" y1="388.6" x2="294.9" y2="414.4" stroke="#999999" stroke-width="1.4"/><circle cx="294.9" cy="401.6" r="1.9" fill="#000"/><rect x="55.5" y="433.5" width="78.9" height="19.3" rx="1.5" fill="#fff" fill-opacity="0.8" stroke="#d9d9d9" stroke-width="0.8"/><circle cx="64.7" cy="438.2" r="2.9" fill="#4169e1" fill-opacity="0.85"/><circle cx="65" cy="448" r="1.5" fill="#000"/><text x="76.3" y="440.5" font-size="7.2" text-anchor="start" textLength="56.4" lengthAdjust="spacingAndGlyphs" fill="#262626" stroke="#262626" stroke-width="0.05" >Binned TESS data</text><text x="76.3" y="450.1" font-size="7.2" text-anchor="start" textLength="15.95" lengthAdjust="spacingAndGlyphs" fill="#262626" stroke="#262626" stroke-width="0.05" >TESS</text><circle cx="60.5" cy="492" r="1.5" fill="#000"/><circle cx="66.8" cy="493.5" r="1.5" fill="#000"/><circle cx="76.4" cy="501.4" r="1.5" fill="#000"/><circle cx="82.5" cy="493.1" r="1.5" fill="#000"/><circle cx="89.2" cy="498.7" r="1.5" fill="#000"/><circle cx="90.3" cy="493.1" r="1.5" fill="#000"/><circle cx="97.1" cy="493.5" r="1.5" fill="#000"/><circle cx="107.1" cy="492.9" r="1.5" fill="#000"/><circle cx="112.3" cy="496.4" r="1.5" fill="#000"/><circle cx="120.6" cy="492.4" r="1.5" fill="#000"/><circle cx="121.7" cy="497.3" r="1.5" fill="#000"/><circle cx="136.2" cy="487.5" r="1.5" fill="#000"/><circle cx="135.5" cy="495.3" r="1.5" fill="#000"/><circle cx="137.3" cy="498" r="1.5" fill="#000"/><circle cx="142.5" cy="494.2" r="1.5" fill="#000"/><circle cx="149.2" cy="494.2" r="1.5" fill="#000"/><circle cx="152.3" cy="496.9" r="1.5" fill="#000"/><circle cx="158" cy="499.8" r="1.5" fill="#000"/><circle cx="167.6" cy="490.6" r="1.5" fill="#000"/><circle cx="166" cy="496.9" r="1.5" fill="#000"/><circle cx="173.2" cy="493.1" r="1.5" fill="#000"/><circle cx="183.3" cy="500.3" r="1.5" fill="#000"/><circle cx="188.2" cy="496.4" r="1.5" fill="#000"/><circle cx="196.3" cy="492.4" r="1.5" fill="#000"/><circle cx="203" cy="495.1" r="1.5" fill="#000"/><circle cx="211.2" cy="497.6" r="1.5" fill="#000"/><circle cx="213" cy="492.9" r="1.5" fill="#000"/><circle cx="218.6" cy="493.5" r="1.5" fill="#000"/><circle cx="226.4" cy="490.8" r="1.5" fill="#000"/><circle cx="228" cy="494.2" r="1.5" fill="#000"/><circle cx="227.3" cy="498.5" r="1.5" fill="#000"/><circle cx="233.2" cy="496.2" r="1.5" fill="#000"/><circle cx="241" cy="489.7" r="1.5" fill="#000"/><circle cx="248.9" cy="495.1" r="1.5" fill="#000"/><circle cx="257.8" cy="493.1" r="1.5" fill="#000"/><circle cx="257.8" cy="500.3" r="1.5" fill="#000"/><circle cx="263.2" cy="498" r="1.5" fill="#000"/><circle cx="271.7" cy="489" r="1.5" fill="#000"/><circle cx="273.5" cy="497.3" r="1.5" fill="#000"/><circle cx="278.4" cy="495.8" r="1.5" fill="#000"/><circle cx="287.8" cy="486.8" r="1.5" fill="#000"/><circle cx="287.1" cy="491.3" r="1.5" fill="#000"/><circle cx="288.7" cy="497.3" r="1.5" fill="#000"/><circle cx="294.5" cy="494.2" r="1.5" fill="#000"/><circle cx="300.5" cy="487.5" r="1.5" fill="#000"/><circle cx="303.4" cy="493.5" r="1.5" fill="#000"/><circle cx="318.5" cy="491.7" r="1.5" fill="#000"/><circle cx="316.9" cy="503.6" r="1.5" fill="#000"/><circle cx="324.1" cy="491.7" r="1.5" fill="#000"/><circle cx="332.6" cy="497.3" r="1.5" fill="#000"/><circle cx="333" cy="492.4" r="1.5" fill="#000"/><circle cx="339.3" cy="495.3" r="1.5" fill="#000"/><circle cx="354.3" cy="496.4" r="1.5" fill="#000"/><circle cx="56.7" cy="494.6" r="2.9" fill="#4169e1" fill-opacity="0.8"/><circle cx="63" cy="493.1" r="2.9" fill="#4169e1" fill-opacity="0.8"/><circle cx="75.1" cy="494.2" r="2.9" fill="#4169e1" fill-opacity="0.8"/><circle cx="82.5" cy="498" r="2.9" fill="#4169e1" fill-opacity="0.8"/><circle cx="93" cy="494" r="2.9" fill="#4169e1" fill-opacity="0.8"/><circle cx="105.3" cy="494.7" r="2.9" fill="#4169e1" fill-opacity="0.8"/><circle cx="117.2" cy="495.3" r="2.9" fill="#4169e1" fill-opacity="0.8"/><circle cx="128.2" cy="496.6" r="2.9" fill="#4169e1" fill-opacity="0.8"/><circle cx="138.9" cy="493.1" r="2.9" fill="#4169e1" fill-opacity="0.8"/><circle cx="150.8" cy="495.3" r="2.9" fill="#4169e1" fill-opacity="0.8"/><circle cx="158.6" cy="498" r="2.9" fill="#4169e1" fill-opacity="0.8"/><circle cx="169.1" cy="492.4" r="2.9" fill="#4169e1" fill-opacity="0.8"/><circle cx="181.7" cy="498.7" r="2.9" fill="#4169e1" fill-opacity="0.8"/><circle cx="192.9" cy="493.5" r="2.9" fill="#4169e1" fill-opacity="0.8"/><circle cx="199.7" cy="492.4" r="2.9" fill="#4169e1" fill-opacity="0.8"/><circle cx="212.3" cy="495.3" r="2.9" fill="#4169e1" fill-opacity="0.8"/><circle cx="224" cy="494.2" r="2.9" fill="#4169e1" fill-opacity="0.8"/><circle cx="234.1" cy="493.5" r="2.9" fill="#4169e1" fill-opacity="0.8"/><circle cx="242.1" cy="491.7" r="2.9" fill="#4169e1" fill-opacity="0.8"/><circle cx="254.2" cy="498.5" r="2.9" fill="#4169e1" fill-opacity="0.8"/><circle cx="264.3" cy="495.1" r="2.9" fill="#4169e1" fill-opacity="0.8"/><circle cx="272.2" cy="493.1" r="2.9" fill="#4169e1" fill-opacity="0.8"/><circle cx="284.2" cy="494.2" r="2.9" fill="#4169e1" fill-opacity="0.8"/><circle cx="290.4" cy="492.4" r="2.9" fill="#4169e1" fill-opacity="0.8"/><circle cx="302.1" cy="491.3" r="2.9" fill="#4169e1" fill-opacity="0.8"/><circle cx="310" cy="493.1" r="2.9" fill="#4169e1" fill-opacity="0.8"/><circle cx="317.8" cy="496.9" r="2.9" fill="#4169e1" fill-opacity="0.8"/><circle cx="329.7" cy="494.7" r="2.9" fill="#4169e1" fill-opacity="0.8"/><circle cx="335.7" cy="494.2" r="2.9" fill="#4169e1" fill-opacity="0.8"/><circle cx="348.3" cy="499.1" r="2.9" fill="#4169e1" fill-opacity="0.8"/><line x1="52.7" y1="494.9" x2="355.5" y2="494.9" stroke="#ff2020" stroke-width="1.1" stroke-dasharray="3,1.8" stroke-opacity="0.9"/><rect x="52.7" y="472.8" width="302.8" height="43.400000000000034" fill="none" stroke="#888888" stroke-width="1.6"/><line x1="50.1" y1="481.3" x2="52.7" y2="481.3" stroke="#888888" stroke-width="1.6"/><text x="48.1" y="484.1" font-size="8.5" text-anchor="end" textLength="25.72" lengthAdjust="spacingAndGlyphs" fill="#262626" stroke="#262626" stroke-width="0.05" >0.0025</text><line x1="50.1" y1="494.9" x2="52.7" y2="494.9" stroke="#888888" stroke-width="1.6"/><text x="48.1" y="497.7" font-size="8.5" text-anchor="end" textLength="25.72" lengthAdjust="spacingAndGlyphs" fill="#262626" stroke="#262626" stroke-width="0.05" >0.0000</text><line x1="50.1" y1="508.3" x2="52.7" y2="508.3" stroke="#888888" stroke-width="1.6"/><text x="48.1" y="511.1" font-size="8.5" text-anchor="end" textLength="31.88" lengthAdjust="spacingAndGlyphs" fill="#262626" stroke="#262626" stroke-width="0.05" >&#8722;0.0025</text><line x1="83.50000000000001" y1="516.2" x2="83.50000000000001" y2="518.8000000000001" stroke="#888888" stroke-width="1.6"/><text x="83.5" y="527.1" font-size="8.5" text-anchor="middle" textLength="10.83" lengthAdjust="spacingAndGlyphs" fill="#262626" stroke="#262626" stroke-width="0.05" >&#8722;4</text><line x1="143.9" y1="516.2" x2="143.9" y2="518.8000000000001" stroke="#888888" stroke-width="1.6"/><text x="143.9" y="527.1" font-size="8.5" text-anchor="middle" textLength="10.83" lengthAdjust="spacingAndGlyphs" fill="#262626" stroke="#262626" stroke-width="0.05" >&#8722;2</text><line x1="204.3" y1="516.2" x2="204.3" y2="518.8000000000001" stroke="#888888" stroke-width="1.6"/><text x="204.3" y="527.1" font-size="8.5" text-anchor="middle" textLength="4.68" lengthAdjust="spacingAndGlyphs" fill="#262626" stroke="#262626" stroke-width="0.05" >0</text><line x1="264.7" y1="516.2" x2="264.7" y2="518.8000000000001" stroke="#888888" stroke-width="1.6"/><text x="264.7" y="527.1" font-size="8.5" text-anchor="middle" textLength="4.68" lengthAdjust="spacingAndGlyphs" fill="#262626" stroke="#262626" stroke-width="0.05" >2</text><line x1="325.1" y1="516.2" x2="325.1" y2="518.8000000000001" stroke="#888888" stroke-width="1.6"/><text x="325.1" y="527.1" font-size="8.5" text-anchor="middle" textLength="4.68" lengthAdjust="spacingAndGlyphs" fill="#262626" stroke="#262626" stroke-width="0.05" >4</text><text transform="translate(10.9,495.7) rotate(-90)" x="0" y="0" font-size="11.5" text-anchor="middle" textLength="54.56" lengthAdjust="spacingAndGlyphs" fill="#262626" stroke="#262626" stroke-width="0.05">Residuals</text><text x="204.3" y="539.5" font-size="11.5" text-anchor="middle" textLength="130.88" lengthAdjust="spacingAndGlyphs" fill="#262626" stroke="#262626" stroke-width="0.05" >Hours from mid-transit</text></svg></body></html>
